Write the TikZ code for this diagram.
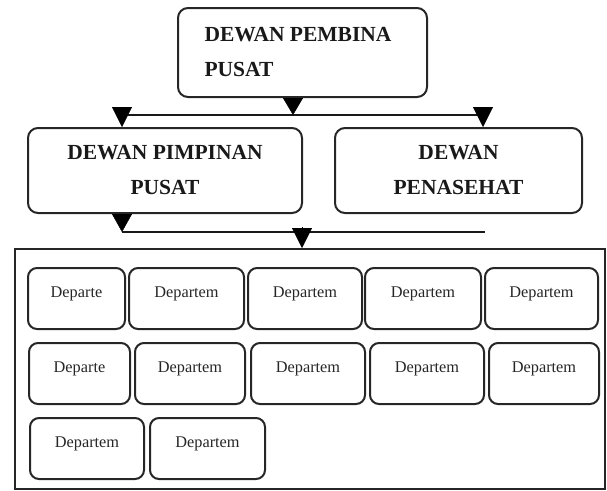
\documentclass[tikz,border=0pt]{standalone}
\usepackage{fontspec}
\setmainfont{Liberation Serif}
\usetikzlibrary{arrows.meta,calc}
\tikzset{
  box/.style={draw=black!85, line width=2pt, rounded corners=10pt, inner sep=0pt},
  head/.style={font=\fontsize{21.5}{35}\selectfont\bfseries, align=center, text=black!90},
  dept/.style={draw=black!85, line width=2pt, rounded corners=9pt, inner sep=0pt,
    font=\fontsize{16.3}{19}\selectfont, text=black!85, text height=29pt, text depth=32pt,
    minimum height=61pt, anchor=north west},
  conn/.style={line width=1.8pt, draw=black!90},
  tri/.style={-{Triangle[width=20pt,length=#1]}, line width=0.4pt, draw=black, fill=black},
  tri/.default=20pt
}
\begin{document}
\begin{tikzpicture}[x=1pt,y=-1pt]
\useasboundingbox (0,0) rectangle (607,490);
% top level
\node[box, head, align=flush left, text width=196pt, minimum width=249pt, minimum height=89pt] (pembina) at (302.5,52.5) {DEWAN PEMBINA\\PUSAT};
\node[box, head, minimum width=274pt, minimum height=85pt] (pimpinan) at (165,170.5) {DEWAN PIMPINAN\\PUSAT};
\node[box, head, minimum width=247pt, minimum height=85pt] (penasehat) at (458.5,170.5) {DEWAN\\PENASEHAT};
% department frame
\node[draw=black!85, line width=1.5pt, minimum width=590pt, minimum height=240pt, inner sep=0pt, anchor=north west] (dept) at (14,248) {};
% first bus
\coordinate (bus1L) at (122,115);
\coordinate (bus1R) at (483,115);
\coordinate (bus1M) at (293,115);
\coordinate (t1) at ([xshift=-9.5pt]pembina.south);
\draw[conn] (bus1L) -- (bus1R);
\draw[tri=17pt] (t1) -- (bus1M);
\draw[tri] ($(bus1L)+(0,-8)$) -- (pimpinan.north -| bus1L);
\draw[tri] ($(bus1R)+(0,-8)$) -- (penasehat.north -| bus1R);
% second bus
\coordinate (bus2L) at (122,232);
\coordinate (bus2R) at (485,232);
\coordinate (bus2M) at (302,227);
\draw[conn] (bus2L) -- (bus2R);
\draw[tri=18pt] (pimpinan.south -| bus2L) -- (bus2L);
\draw[tri] (bus2M) -- (dept.north -| bus2M);
% departments row 1
\node[dept, minimum width=97pt]  (d11) at (27,267)  {Departe};
\node[dept, minimum width=115pt] (d12) at (128,267) {Departem};
\node[dept, minimum width=114pt] (d13) at (247,267) {Departem};
\node[dept, minimum width=116pt] (d14) at (364,267) {Departem};
\node[dept, minimum width=113pt] (d15) at (484,267) {Departem};
% row 2
\node[dept, minimum width=101pt] (d21) at (28,342)  {Departe};
\node[dept, minimum width=110pt] (d22) at (134,342) {Departem};
\node[dept, minimum width=114pt] (d23) at (250,342) {Departem};
\node[dept, minimum width=114pt] (d24) at (369,342) {Departem};
\node[dept, minimum width=110pt] (d25) at (488,342) {Departem};
% row 3
\node[dept, minimum width=114pt] (d31) at (29,417)  {Departem};
\node[dept, minimum width=115pt] (d32) at (149,417) {Departem};
\end{tikzpicture}
\end{document}
